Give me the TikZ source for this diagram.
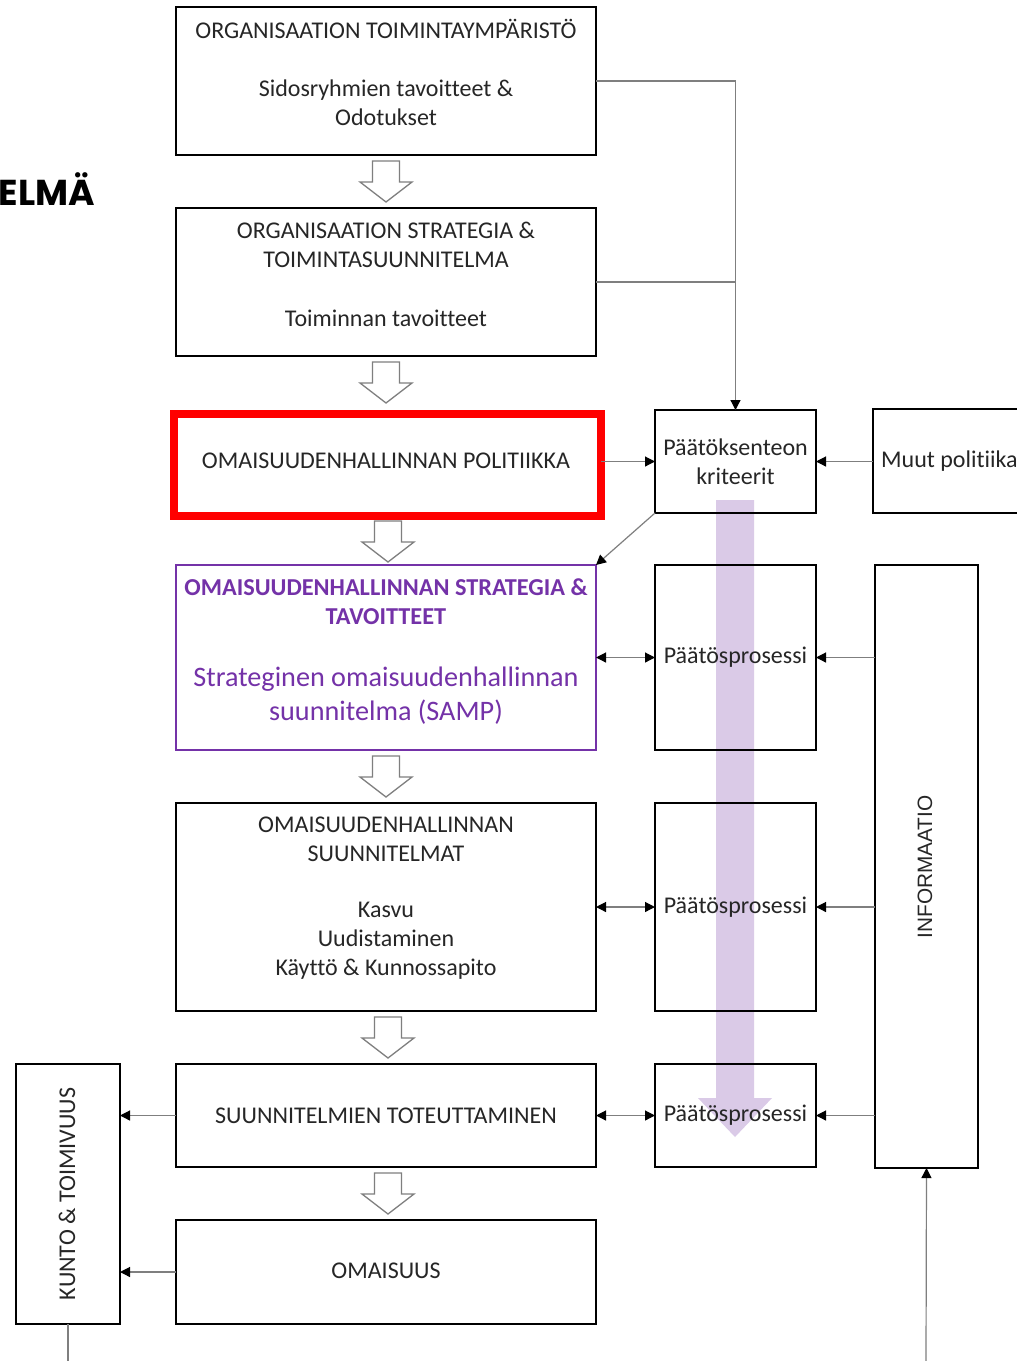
\documentclass[tikz,border=0pt]{standalone}
\usepackage{fontspec}
\setmainfont[Ligatures=NoCommon]{Carlito}
\newfontfamily\arialf{Liberation Sans}
\newfontfamily\popf{Poppins}
\usetikzlibrary{arrows.meta}
\definecolor{purp}{HTML}{7432A8}
\definecolor{lav}{HTML}{DACAE7}
\definecolor{conn}{HTML}{7F7F7F}
\tikzset{
  box/.style={draw=black, line width=2.6pt, inner sep=0pt, outer sep=0pt},
  txt/.style={align=center, inner sep=0pt, font=\fontsize{24}{29}\selectfont, text=black!85},
  vtxt/.style={inner sep=0pt, rotate=90, text=black!85},
  link/.style={draw=conn, line width=1.2pt, -{Triangle[length=10pt,width=10pt,color=black]}},
  dlink/.style={draw=conn, line width=1.2pt, {Triangle[length=10pt,width=10pt,color=black]}-{Triangle[length=10pt,width=10pt,color=black]}},
  plain/.style={draw=conn, line width=1.2pt},
  hollowarr/.style={draw=conn, fill=white, line width=1.3pt, line join=miter},
}
\newcommand\hollowarr[2]{% x, ytop
  \draw[hollowarr] (#1-13.5,#2) -- (#1+13.5,#2) -- (#1+13.5,#2+21) -- (#1+26,#2+21) -- (#1,#2+41) -- (#1-26,#2+21) -- (#1-13.5,#2+21) -- cycle;}
\begin{document}
\begin{tikzpicture}[x=1pt,y=-1pt]
\clip (0,0) rectangle (1017,1361);
\fill[white] (0,0) rectangle (1017,1361);

% big translucent arrow (behind)
\fill[lav] (716,500) -- (754,500) -- (754,1098) -- (772,1098) -- (735,1137) -- (698,1098) -- (716,1098) -- cycle;

% left column boxes
\node[box, minimum width=420, minimum height=148] (b1) at (386,81) {};
\node[box, minimum width=420, minimum height=148] (b2) at (386,282) {};
\node[draw=red, line width=8pt, inner sep=0pt, outer sep=0pt, minimum width=427, minimum height=102] (b3) at (387.5,465) {};
\node[draw=purp, line width=2.6pt, inner sep=0pt, outer sep=0pt, minimum width=420, minimum height=185] (b4) at (386,657.5) {};
\node[box, minimum width=420, minimum height=208] (b5) at (386,907) {};
\node[box, minimum width=420, minimum height=103] (b6) at (386,1115.5) {};
\node[box, minimum width=420, minimum height=104] (b7) at (386,1272) {};
\node[box, minimum width=104, minimum height=260] (kt) at (68,1194) {};

% texts of left column
\node[txt] (t1a) at (386,29) {ORGANISAATION TOIMINTAYMPÄRISTÖ};
\node[txt] (t1b) at (386,103) {Sidosryhmien tavoitteet \&\\Odotukset};
\node[txt] (t2a) at (386,245) {ORGANISAATION STRATEGIA \&\\TOIMINTASUUNNITELMA};
\node[txt] (t2b) at (386,318) {Toiminnan tavoitteet};
\node[txt] (t3) at (386,461) {OMAISUUDENHALLINNAN POLITIIKKA};
\node[txt, text=purp, font=\bfseries\fontsize{24.3}{29}\selectfont] (t4a) at (386,602) {OMAISUUDENHALLINNAN STRATEGIA \&\\TAVOITTEET};
\node[txt, text=purp, font=\fontsize{28.2}{34}\selectfont] (t4b) at (386,696) {Strateginen omaisuudenhallinnan\\suunnitelma (SAMP)};
\node[txt] (t5a) at (386,839) {OMAISUUDENHALLINNAN\\SUUNNITELMAT};
\node[txt] (t5b) at (386,941) {Kasvu\\Uudistaminen\\Käyttö \& Kunnossapito};
\node[txt] (t6) at (386,1116) {SUUNNITELMIEN TOTEUTTAMINEN};
\node[txt] (t7) at (386,1271) {OMAISUUS};
\node[vtxt, font=\fontsize{24}{29}\selectfont] (t8) at (67,1194) {KUNTO \& TOIMIVUUS};

% hollow arrows
\hollowarr{386}{161}
\hollowarr{386}{362}
\hollowarr{388}{521}
\hollowarr{386}{756}
\hollowarr{388}{1017}
\hollowarr{388}{1173}

% middle column
\node[box, minimum width=161, minimum height=103, txt] (pk) at (735.5,461.5) {Päätöksenteon\\kriteerit};
\node[box, minimum width=161, minimum height=185, txt] (p1) at (735.5,657.5) {Päätösprosessi};
\node[box, minimum width=161, minimum height=208, txt] (p2) at (735.5,907) {Päätösprosessi};
\node[box, minimum width=161, minimum height=103, txt] (p3) at (735.5,1115.5) {Päätösprosessi};

% right column
\node[box, minimum width=200, minimum height=104] (mp) at (973,461) {};
\node[txt, anchor=west] (mpt) at (881,461) {Muut politiikat};
\node[box, minimum width=103, minimum height=603] (inf) at (926.5,866.5) {};
\node[vtxt, font=\arialf\fontsize{20.8}{25}\selectfont] (inft) at (925,867) {INFORMAATIO};

% bottom free ends
\coordinate (kbot) at (68,1361);
\coordinate (ibot) at (926,1361);

% title fragment
\node[anchor=base east, inner sep=0pt, font=\popf\bfseries\fontsize{36}{42}\selectfont] (ttl) at (95,205) {ELMÄ};

% connectors
\draw[plain] (b1.east) -| (pk.north);
\draw[link] (b1.east -| pk.north) -- (pk.north);
\draw[plain] (b2.east) -- (b2.east -| pk.north);
\draw[link] (b3.east |- pk.west) -- (pk.west);
\draw[link] (mp.west |- pk.east) -- (pk.east);
\draw[link] (pk.south west) -- (b4.north east);
\draw[dlink] (b4.east |- p1.west) -- (p1.west);
\draw[dlink] (b5.east |- p2.west) -- (p2.west);
\draw[dlink] (b6.east |- p3.west) -- (p3.west);
\draw[link] (inf.west |- p1.east) -- (p1.east);
\draw[link] (inf.west |- p2.east) -- (p2.east);
\draw[link] (inf.west |- p3.east) -- (p3.east);
\draw[link] (b6.west) -- (b6.west -| kt.east);
\draw[link] (b7.west) -- (b7.west -| kt.east);
\draw[plain] (kt.south) -- (kbot);
\draw[link] (ibot) -- (inf.south);
\end{tikzpicture}
\end{document}
